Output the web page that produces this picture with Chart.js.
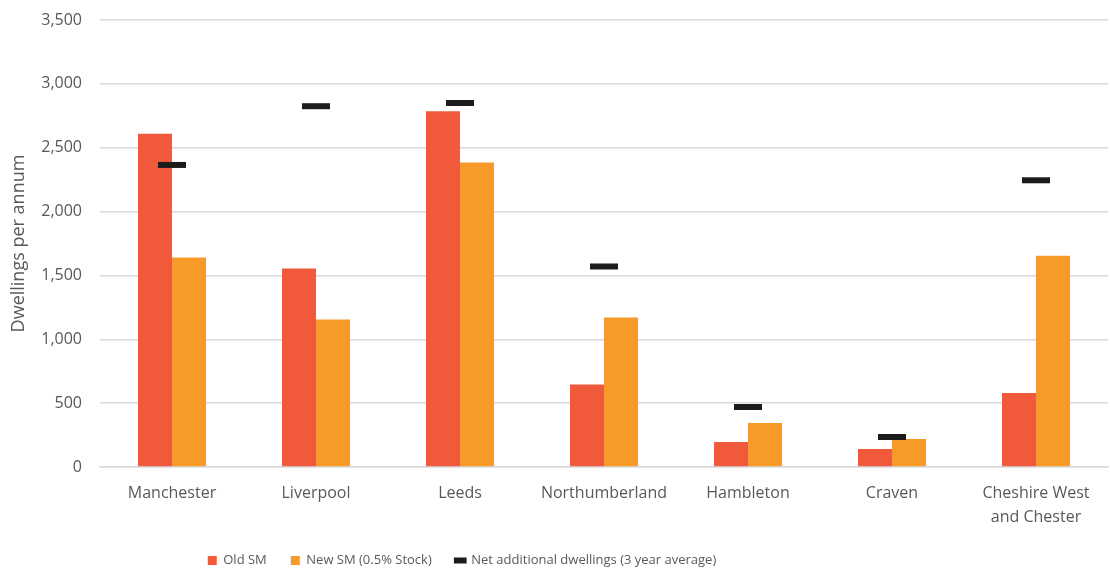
<!DOCTYPE html>
<html>
<head>
<meta charset="utf-8">
<script src="https://cdn.jsdelivr.net/npm/chart.js@4/dist/chart.umd.min.js"></script>
<style>
  html, body { margin: 0; padding: 0; background: #fff; }
  #wrap { width: 1110px; height: 572px; position: relative; }
</style>
</head>
<body>
<div id="wrap"><canvas id="myChart"></canvas></div>
<script>
const AREAS = ['Manchester', 'Liverpool', 'Leeds', 'Northumberland', 'Hambleton', 'Craven', ['Cheshire West', 'and Chester']];
const OLD_SM = [2610, 1555, 2785, 645, 195, 140, 580];
const NEW_SM = [1640, 1155, 2385, 1170, 345, 220, 1655];
const NET_ADDITIONAL = [2365, 2825, 2850, 1570, 470, 235, 2245];
const Y_TICKS = [0, 500, 1000, 1500, 2000, 2500, 3000, 3500];

const FONT = "'Open Sans', 'Liberation Sans', sans-serif";
const TEXT = '#595959';
const GRID = '#d9d9d9';

Chart.defaults.font.family = FONT;
Chart.defaults.color = TEXT;

// the legend in the original sits left of the canvas centre
const legendShift = {
    id: 'legendShift',
    afterLayout(chart) {
        const lg = chart.legend;
        if (!lg) return;
        lg.left -= 92;
        lg.right -= 92;
    }
};

new Chart(document.getElementById('myChart'), {
    data: {
        labels: AREAS,
        datasets: [
            {
                type: 'bar',
                label: 'Old SM',
                data: OLD_SM,
                backgroundColor: '#f05a3a',
                pointStyle: 'rect',
                order: 2,
            },
            {
                type: 'bar',
                label: 'New SM (0.5% Stock)',
                data: NEW_SM,
                backgroundColor: '#f89a2a',
                pointStyle: 'rect',
                order: 2,
            },
            {
                type: 'line',
                label: 'Net additional dwellings (3 year average)',
                data: NET_ADDITIONAL,
                showLine: false,
                pointStyle: 'line',
                pointRadius: 14,
                pointHoverRadius: 14,
                borderColor: '#1c1c1c',
                backgroundColor: '#1c1c1c',
                pointBorderWidth: 6,
                borderWidth: 6,
                order: 0,
            },
        ]
    },
    options: {
        responsive: true,
        maintainAspectRatio: false,
        animation: false,
        layout: { autoPadding: false, padding: { top: 20, right: 2, left: 0, bottom: -5 } },
        datasets: {
            bar: { barPercentage: 1, categoryPercentage: 0.472 }
        },
        plugins: {
            tooltip: { enabled: false },
            legend: {
                position: 'bottom',
                labels: {
                    usePointStyle: true,
                    boxWidth: 9,
                    boxHeight: 9,
                    padding: 24,
                    font: { size: 13 },
                    color: TEXT,
                    sort: (a, b) => a.datasetIndex - b.datasetIndex,
                }
            }
        },
        scales: {
            x: {
                grid: { display: false, drawTicks: false },
                border: { display: true, color: GRID, width: 1.5 },
                ticks: { font: { size: 16, lineHeight: 1.5 }, color: TEXT, maxRotation: 0, autoSkip: false, padding: 14 },
                afterFit(s) { s.height = 63; },
            },
            y: {
                min: 0,
                max: 3500,
                afterBuildTicks(s) { s.ticks = Y_TICKS.map(v => ({ value: v })); },
                grid: { color: GRID, lineWidth: 1.5, drawTicks: false },
                border: { display: false },
                ticks: {
                    font: { size: 16 },
                    color: TEXT,
                    padding: 18,
                    callback: v => v.toLocaleString('en-GB'),
                },
                title: {
                    display: true,
                    text: 'Dwellings per annum',
                    font: { size: 18 },
                    color: TEXT,
                    padding: { top: 8, bottom: 0 },
                },
                afterFit(s) {
                    s.width = 100;
                    s.paddingTop = 0;
                    s.paddingBottom = 0;
                },
            }
        }
    },
    plugins: [legendShift]
});
</script>
</body>
</html>
